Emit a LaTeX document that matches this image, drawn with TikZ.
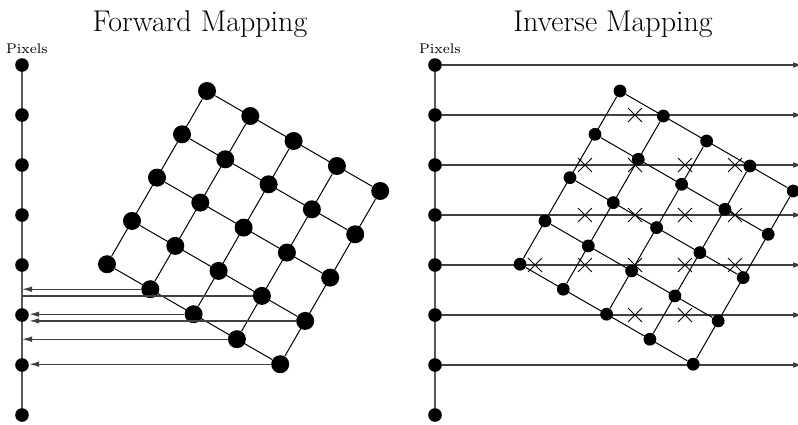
\documentclass[tikz,border=0pt]{standalone}
\usetikzlibrary{positioning,arrows.meta,shapes.misc}
\pgfdeclarelayer{background}
\pgfsetlayers{background,main}

\begin{document}
\begin{tikzpicture}[x=0.5pt, y=-0.5pt, >={Latex[length=5pt,width=2.8pt]},
  pixdot/.style={circle, fill, inner sep=0pt, minimum size=6.8pt},
  bigdot/.style={circle, fill, inner sep=0pt, minimum size=9pt},
  smalldot/.style={circle, fill, inner sep=0pt, minimum size=6.4pt},
  xmark/.style={cross out, draw, line width=0.45pt, inner sep=0pt, minimum size=6.5pt},
  pixline/.style={draw=black!65, line width=0.7pt},
  rayline/.style={draw=black!75, line width=0.6pt},
  gridline/.style={line width=0.5pt}]
\useasboundingbox (0,0) rectangle (798,424);

% titles
\node[anchor=base, font=\fontsize{15}{18}\selectfont] (ftitle) at (200,31) {Forward Mapping};
\node[anchor=base, font=\fontsize{15}{18}\selectfont] (ititle) at (613,31) {Inverse Mapping};
\node[anchor=base, font=\scriptsize] (fpix) at (27,53) {Pixels};
\node[anchor=base, font=\scriptsize] (ipix) at (440,53) {Pixels};

% pixel columns
\foreach \k in {1,...,8} {
  \node[pixdot] (fp-\k) at (22,15+50*\k) {};
  \node[pixdot] (ip-\k) at (435,15+50*\k) {};
}
\foreach \k in {1,...,7}
  \coordinate (ie-\k) at (803,15+50*\k);

% rotated sample grids
\foreach \i in {0,...,4}
  \foreach \j in {0,...,4} {
    \node[bigdot] (fg-\i-\j) at ({207+43.3*\i-25*\j},{91+25*\i+43.3*\j}) {};
    \node[smalldot] (ig-\i-\j) at ({620+43.3*\i-25*\j},{91+25*\i+43.3*\j}) {};
  }
\foreach \i in {0,...,4} {
  \draw[gridline] (fg-0-\i) -- (fg-4-\i);
  \draw[gridline] (fg-\i-0) -- (fg-\i-4);
  \draw[gridline] (ig-0-\i) -- (ig-4-\i);
  \draw[gridline] (ig-\i-0) -- (ig-\i-4);
}

\begin{pgfonlayer}{background}
\draw[pixline] (fp-1.center) -- (fp-8.center);
\draw[pixline] (ip-1.center) -- (ip-8.center);
\foreach \k in {1,...,7}
  \draw[rayline, ->] (ip-\k) -- (ie-\k);
\end{pgfonlayer}

% forward: samples pushed to the pixel column
\draw[rayline, ->] (fg-1-4) -- (fp-1 |- fg-1-4);
\draw[rayline] (fg-3-3) -- (fp-1 |- fg-3-3);
\draw[rayline, ->] (fg-2-4) -- (fp-6.east |- fg-2-4);
\draw[rayline, ->] (fg-4-3) -- (fp-6.east |- fg-4-3);
\draw[rayline, ->] (fg-3-4) -- (fp-1 |- fg-3-4);
\draw[rayline, ->] (fg-4-4) -- (fp-7.east |- fg-4-4);

% inverse: pixel centres inside the grid
\foreach \cx/\cy [count=\n] in {635/115, 585/165, 635/165, 685/165, 735/165,
    585/215, 635/215, 685/215, 735/215, 535/265, 585/265, 635/265, 685/265,
    735/265, 635/315, 685/315}
  \node[xmark] (x-\n) at (\cx,\cy) {};
\end{tikzpicture}
\end{document}
